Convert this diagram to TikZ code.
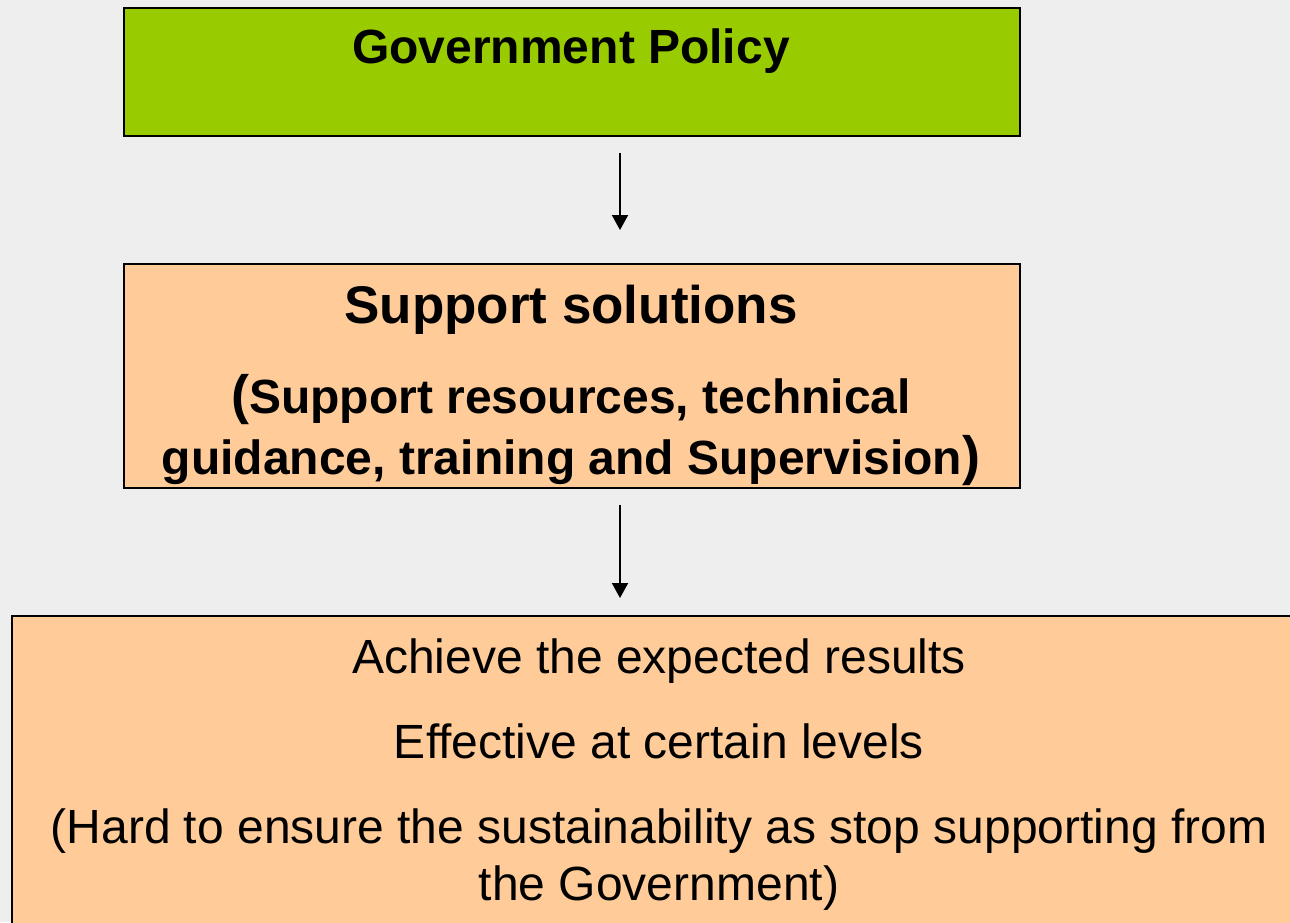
\documentclass[tikz,border=0pt]{standalone}
\usepackage{fontspec}
\setmainfont{Liberation Sans}[Ligatures={TeX,NoCommon}]
\usetikzlibrary{arrows.meta}
\definecolor{bg}{HTML}{EEEEEE}
\definecolor{gpgreen}{HTML}{99CC00}
\definecolor{peach}{HTML}{FFCC99}
\newcommand{\bigparen}[1]{{\fontsize{54}{58}\selectfont #1}}
\tikzset{
  boxshape/.style={draw=black, line width=2pt, rectangle, inner sep=0pt, anchor=north west},
  boldtxt/.style={anchor=base, inner sep=0pt, font=\bfseries\fontsize{48}{57.6}\selectfont},
  bigbold/.style={anchor=base, inner sep=0pt, font=\bfseries\fontsize{53}{63}\selectfont},
  regtxt/.style={anchor=base, inner sep=0pt, font=\fontsize{48}{57.6}\selectfont},
  arr/.style={line width=2pt, -{Triangle[width=16pt,length=15pt]}}
}
\begin{document}
\begin{tikzpicture}[x=1pt,y=-1pt]
\useasboundingbox (0,0) rectangle (1290,922);
\clip (0,0) rectangle (1290,922);
\fill[bg] (0,0) rectangle (1290,922);
\node[boxshape, fill=gpgreen, minimum width=896pt, minimum height=128pt] (gp) at (123,7) {};
\node[boxshape, fill=peach, minimum width=896pt, minimum height=224pt] (ss) at (123,263) {};
\node[boxshape, fill=peach, minimum width=1310pt, minimum height=340pt] (res) at (11,615) {};
\node[boldtxt] (gpt) at (571,63) {Government Policy};
\node[bigbold] (sst) at (571,323) {Support solutions};
\node[boldtxt] (ss2) at (571,413) {\bigparen{(}Support resources, technical};
\node[boldtxt] (ss3) at (571,474) {guidance, training and Supervision\bigparen{)}};
\node[regtxt] (r1) at (659,673) {Achieve the expected results};
\node[regtxt] (r2) at (659,758) {Effective at certain levels};
\node[regtxt] (r3) at (659,843) {(Hard to ensure the sustainability as stop supporting from};
\node[regtxt] (r4) at (659,900) {the Government)};
\draw[arr] ([xshift=48pt,yshift=-16pt]gp.south) -- ([xshift=48pt,yshift=33pt]ss.north);
\draw[arr] ([xshift=48pt,yshift=-16pt]ss.south) -- ([xshift=48pt,yshift=17pt]res.north -| ss.south);
\end{tikzpicture}
\end{document}
